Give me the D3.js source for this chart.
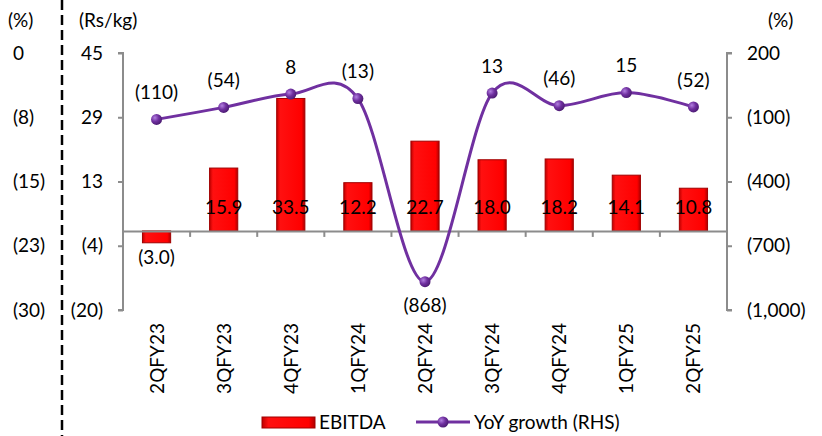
<!DOCTYPE html>
<html><head><meta charset="utf-8">
<script src="https://cdn.jsdelivr.net/npm/d3@7"></script>
<style>body{margin:0;background:#fff}svg{display:block}text{font-family:Lato,"Open Sans",sans-serif;fill:#000}</style>
</head><body><svg id="c" width="822" height="436"></svg>
<script>
const categories=["2QFY23","3QFY23","4QFY23","1QFY24","2QFY24","3QFY24","4QFY24","1QFY25","2QFY25"];
const ebitda=[-3.0,15.9,33.5,12.2,22.7,18.0,18.2,14.1,10.8];
const yoy=[-110,-54,8,-13,-868,13,-46,15,-52];
const leftTicks=[-20,-3.75,12.5,28.75,45];
const leftTickLabels=["(20)","(4)","13","29","45"];
const rightTicks=[-1000,-700,-400,-100,200];
const rightTickLabels=["(1,000)","(700)","(400)","(100)","200"];
const farLeftLabels=["(30)","(23)","(15)","(8)","0"];

const FS="19px";
const svg=d3.select("#c");
const defs=svg.append("defs");
const bg=defs.append("linearGradient").attr("id","barg").attr("x1","0").attr("x2","1").attr("y1","0").attr("y2","0");
bg.append("stop").attr("offset","0").attr("stop-color","#c00000");
bg.append("stop").attr("offset","0.12").attr("stop-color","#ff1010");
bg.append("stop").attr("offset","0.88").attr("stop-color","#ff0000");
bg.append("stop").attr("offset","1").attr("stop-color","#b00000");
const mg=defs.append("radialGradient").attr("id","mkg").attr("cx","0.35").attr("cy","0.35").attr("r","0.7");
mg.append("stop").attr("offset","0").attr("stop-color","#b27fe0");
mg.append("stop").attr("offset","0.5").attr("stop-color","#7030a0");
mg.append("stop").attr("offset","1").attr("stop-color","#4a1a70");

const x0=123,x1=727,yTop=53,yBot=310;
const x=d3.scaleBand().domain(categories).range([x0,x1]).paddingInner(0.58).paddingOuter(0.29);
const xb=d3.scaleBand().domain(categories).range([x0,x1]);
const yL=d3.scaleLinear().domain([-20,45]).range([yBot,yTop]);
const yR=d3.scaleLinear().domain([-1000,200]).range([yBot,yTop]);
const axisColor="#8c8c8c";

// left axis
const la=svg.append("g").attr("transform",`translate(${x0},0)`)
 .call(d3.axisLeft(yL).tickValues(leftTicks).tickFormat((d,i)=>leftTickLabels[i]).tickSize(5).tickPadding(15));
la.selectAll("path,line").attr("stroke",axisColor).attr("stroke-width",2);
la.selectAll("text").style("font-size",FS).attr("fill","#000");
la.select(".domain").attr("d",`M-5,${yTop}H0V${yBot}H-5`);

// right axis
const ra=svg.append("g").attr("transform",`translate(${x1},0)`)
 .call(d3.axisRight(yR).tickValues(rightTicks).tickFormat((d,i)=>rightTickLabels[i]).tickSize(5).tickPadding(15));
ra.selectAll("path,line").attr("stroke",axisColor).attr("stroke-width",2);
ra.selectAll("text").style("font-size",FS).attr("fill","#000");
ra.select(".domain").attr("d",`M5,${yTop}H0V${yBot}H5`);

// far-left % column
svg.append("g").selectAll("text").data(leftTicks).join("text")
 .attr("x",13).attr("y",d=>yL(d)).attr("dy","0.35em").style("font-size",FS)
 .text((d,i)=>farLeftLabels[i]);
svg.append("text").attr("x",8).attr("y",20).attr("dy","0.35em").style("font-size",FS).text("(%)");
svg.append("text").attr("x",79).attr("y",20).attr("dy","0.35em").style("font-size",FS).text("(Rs/kg)");
svg.append("text").attr("x",768).attr("y",20).attr("dy","0.35em").style("font-size",FS).text("(%)");

// dashed separator
svg.append("line").attr("x1",62).attr("x2",62).attr("y1",0).attr("y2",436)
 .attr("stroke","#000").attr("stroke-width",2.5).attr("stroke-dasharray","10,5");

// bars
svg.append("g").selectAll("rect").data(ebitda).join("rect")
 .attr("x",(d,i)=>x(categories[i])).attr("width",x.bandwidth())
 .attr("y",d=>yL(Math.max(0,d))).attr("height",d=>Math.abs(yL(d)-yL(0)))
 .attr("fill","url(#barg)").attr("stroke","#a00000").attr("stroke-width",1);

// category axis at zero
const ca=svg.append("g").attr("transform",`translate(0,${yL(0)})`)
 .call(d3.axisBottom(xb).tickSize(0).tickFormat(""));
ca.select(".domain").attr("stroke",axisColor).attr("stroke-width",2);
svg.append("g").selectAll("line").data(categories.slice(1)).join("line")
 .attr("x1",d=>xb(d)).attr("x2",d=>xb(d)).attr("y1",yL(0)).attr("y2",yL(0)+6)
 .attr("stroke",axisColor).attr("stroke-width",2);

// category labels (rotated)
svg.append("g").selectAll("text").data(categories).join("text")
 .attr("transform",d=>`translate(${xb(d)+xb.bandwidth()/2+7},323) rotate(-90)`)
 .attr("text-anchor","end").style("font-size",FS).text(d=>d);

// bar labels
svg.append("g").selectAll("text").data(ebitda).join("text")
 .attr("x",(d,i)=>xb(categories[i])+xb.bandwidth()/2)
 .attr("y",d=>d>=0?yL(0)-24:yL(d)+15).attr("dy","0.35em").attr("text-anchor","middle")
 .style("font-size",FS).text(d=>d<0?`(${Math.abs(d).toFixed(1)})`:d.toFixed(1));

// line
const line=d3.line().x((d,i)=>xb(categories[i])+xb.bandwidth()/2).y(d=>yR(d)).curve(d3.curveCardinal.tension(0));
svg.append("path").datum(yoy).attr("d",line).attr("fill","none").attr("stroke","#7030a0").attr("stroke-width",3);
svg.append("g").selectAll("circle").data(yoy).join("circle")
 .attr("cx",(d,i)=>xb(categories[i])+xb.bandwidth()/2).attr("cy",d=>yR(d)).attr("r",5.5)
 .attr("fill","url(#mkg)");
svg.append("g").selectAll("text").data(yoy).join("text")
 .attr("x",(d,i)=>xb(categories[i])+xb.bandwidth()/2)
 .attr("y",d=>d<-500?yR(d)+24:yR(d)-27).attr("dy","0.35em").attr("text-anchor","middle")
 .style("font-size",FS).text(d=>d<0?`(${Math.abs(d)})`:d);

// legend
svg.append("rect").attr("x",262).attr("y",417).attr("width",53).attr("height",11)
 .attr("fill","url(#barg)").attr("stroke","#a00000");
svg.append("text").attr("x",319).attr("y",422).attr("dy","0.35em").style("font-size",FS).text("EBITDA");
svg.append("line").attr("x1",416).attr("x2",470).attr("y1",422).attr("y2",422).attr("stroke","#7030a0").attr("stroke-width",3);
svg.append("circle").attr("cx",443).attr("cy",422).attr("r",5.5).attr("fill","url(#mkg)");
svg.append("text").attr("x",474).attr("y",422).attr("dy","0.35em").style("font-size",FS).text("YoY growth (RHS)");
</script></body></html>
